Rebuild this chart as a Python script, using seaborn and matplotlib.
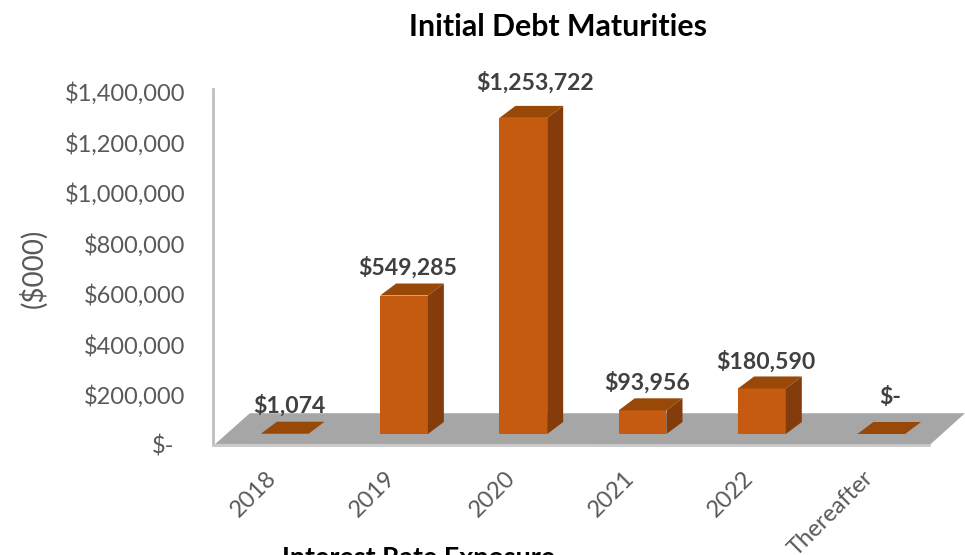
import matplotlib
matplotlib.use("Agg")
import matplotlib.pyplot as plt
import matplotlib.transforms as mtrans
from matplotlib.patches import Polygon
import pandas as pd
import seaborn as sns

categories = ["2018", "2019", "2020", "2021", "2022", "Thereafter"]
maturities = [1074, 549285, 1253722, 93956, 180590, 0]
value_labels = ["$1,074", "$549,285", "$1,253,722", "$93,956", "$180,590", "$-"]
y_ticks = [0, 200000, 400000, 600000, 800000, 1000000, 1200000, 1400000]
y_tick_labels = ["$-", "$200,000", "$400,000", "$600,000", "$800,000",
                 "$1,000,000", "$1,200,000", "$1,400,000"]

FRONT, TOP, SIDE = "#C55A11", "#984807", "#843C0C"
FLOOR, WALL, TEXT = "#A6A6A6", "#BFBFBF", "#595959"

sns.set_theme(style="white")
plt.rcParams["font.family"] = ["Lato", "DejaVu Sans"]

W, H = 965, 555
fig = plt.figure(figsize=(W / 100, H / 100), dpi=100)
ax = fig.add_axes([213 / W, 1 - 445 / H, (965 - 213) / W, (445 - 92) / H])

df = pd.DataFrame({"year": categories, "amount": maturities})
sns.barplot(data=df, x="year", y="amount", color=FRONT, saturation=1,
            width=0.4, ax=ax, zorder=3, linewidth=0)

ax.set_xlim(-0.601, 5.702)
ax.set_ylim(0, 1400000)

# Pixel-to-data factors for the pseudo-3D depth
x_per_px = (5.702 + 0.601) / (965 - 213)
y_per_px = 1400000 / (445 - 92)
depth_x, depth_y = 16 * x_per_px, 12 * y_per_px

# Bars stand part-way back on the floor, so lift them above the wall baseline
lift = mtrans.ScaledTranslation(0, 11 / 100, fig.dpi_scale_trans)
plane = ax.transData + lift

# Floor parallelogram
ax.add_patch(Polygon(
    [(0.003, 0.003), (0.049, 0.09), (1.0, 0.09), (0.953, 0.0)],
    closed=True, transform=ax.transAxes, facecolor=FLOOR, edgecolor="none",
    zorder=1, clip_on=False))

half = 0.2
for bar, x, v in zip(ax.patches, range(len(categories)), maturities):
    bar.set_transform(plane)
    bar.set_clip_on(False)
    top = [(x - half, v), (x + half, v), (x + half + depth_x, v + depth_y),
           (x - half + depth_x, v + depth_y)]
    ax.add_patch(Polygon(top, closed=True, transform=plane, facecolor=TOP,
                         edgecolor="none", zorder=4, clip_on=False))
    if v > 5000:
        side = [(x + half, 0), (x + half + depth_x, depth_y),
                (x + half + depth_x, v + depth_y), (x + half, v)]
        ax.add_patch(Polygon(side, closed=True, transform=plane, facecolor=SIDE,
                             edgecolor="none", zorder=4, clip_on=False))

# Data labels sit above each bar's top face
label_offsets = [(5, 28), (4, 28), (12, 35), (4, 28), (4, 27), (9, 37)]
for x, v, lab, (ox, oy) in zip(range(len(categories)), maturities, value_labels, label_offsets):
    ax.annotate(lab, xy=(x, v), xycoords=plane, xytext=(ox * 0.72, oy * 0.72),
                textcoords="offset points", ha="center", va="center",
                fontsize=16.6, fontweight="bold", color="#404040", zorder=6,
                annotation_clip=False)

ax.set_yticks(y_ticks, y_tick_labels)
ax.tick_params(axis="y", length=0, pad=20, labelsize=17, labelcolor=TEXT)
ax.set_xticks(range(len(categories)), categories)
ax.tick_params(axis="x", length=0, pad=16, labelsize=17, labelcolor=TEXT)
shift = mtrans.ScaledTranslation(-19 / 100, 0, fig.dpi_scale_trans)
for t in ax.get_xticklabels():
    t.set_rotation(45)
    t.set_ha("right")
    t.set_rotation_mode("anchor")
    t.set_transform(t.get_transform() + shift)

# The zero label sits a little further left than the other amounts
zero_label = ax.get_yticklabels()[0]
zero_label.set_transform(zero_label.get_transform()
                         + mtrans.ScaledTranslation(-11 / 100, 0, fig.dpi_scale_trans))

ax.set_xlabel("")
ax.set_ylabel("")

for name in ("top", "right"):
    ax.spines[name].set_visible(False)
ax.spines["left"].set_color(WALL)
ax.spines["left"].set_linewidth(2)
ax.spines["left"].set_bounds(0, 1410000)
ax.spines["bottom"].set_color("#C8C8C8")
ax.spines["bottom"].set_linewidth(2)
ax.spines["bottom"].set_bounds(-0.601, 5.40)
ax.patch.set_alpha(0)

fig.text(558 / W, 1 - 27 / H, "Initial Debt Maturities", ha="center", va="center",
         fontsize=21.8, fontweight="bold", color="black")
fig.text(33 / W, 1 - 268 / H, "($000)", rotation=90, ha="center", va="center",
         fontsize=20, color=TEXT)
fig.text(419 / W, 1 - 558 / H, "Interest Rate Exposure", ha="center", va="center",
         fontsize=19.4, fontweight="bold", color="black")

fig.savefig("out.png", dpi=100, facecolor="white")
